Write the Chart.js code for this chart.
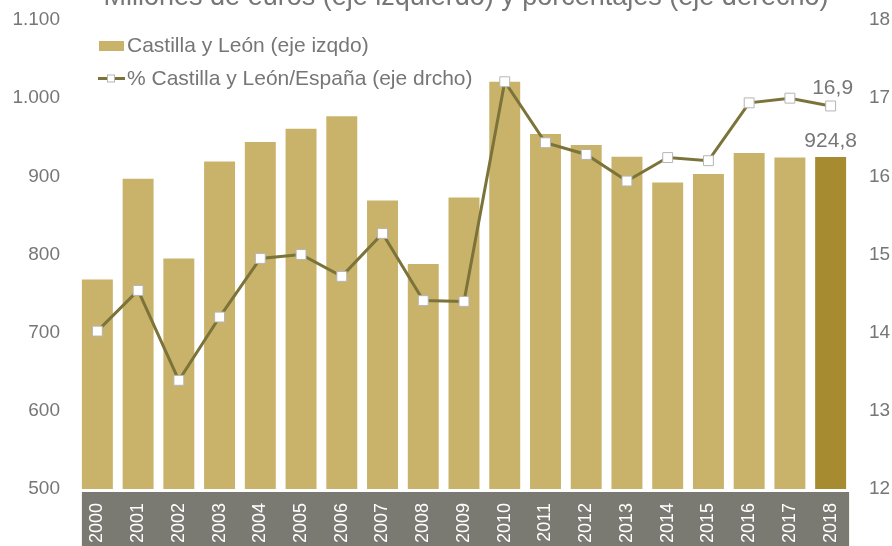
<!DOCTYPE html>
<html>
<head>
<meta charset="utf-8">
<script src="https://cdn.jsdelivr.net/npm/chart.js@4"></script>
<style>
  html, body { margin:0; padding:0; background:#fff; }
  #wrap { width:892px; height:546px; position:relative; }
</style>
</head>
<body>
<div id="wrap"><canvas id="chart" width="892" height="546"></canvas></div>
<script>
// Millones de euros (eje izquierdo) y porcentajes (eje derecho)
const years = ["2000","2001","2002","2003","2004","2005","2006","2007","2008","2009",
               "2010","2011","2012","2013","2014","2015","2016","2017","2018"];
const cylValues = [768, 897, 795, 919, 944, 961, 977, 869, 788, 873,
                   1021, 954, 940, 925, 892, 903, 930, 924, 924.8];
const pctValues = [14.02, 14.54, 13.39, 14.2, 14.95, 15.0, 14.72, 15.27, 14.41, 14.4,
                   17.21, 16.43, 16.28, 15.94, 16.24, 16.2, 16.94, 17.0, 16.9];
const leftTicks = [500, 600, 700, 800, 900, 1000, 1100];
const rightTicks = [12, 13, 14, 15, 16, 17, 18];

const titleText = "Millones de euros (eje izquierdo) y porcentajes (eje derecho)";
const barLabel = "Castilla y León (eje izqdo)";
const lineLabel = "% Castilla y León/España (eje drcho)";

const BAR = "#c9b36a", BAR_LAST = "#a68b30", LINE = "#7b7339", TXT = "#767676";
const FONT = "'Liberation Sans', Arial, sans-serif";

const fmt = (v, d) => v.toLocaleString('de-DE', {minimumFractionDigits:d, maximumFractionDigits:d});

// gray band under the x axis, title (cut at top), legend, value labels
const extras = {
  id:'extras',
  beforeDraw(chart){
    const {ctx, chartArea} = chart;
    const meta = chart.getDatasetMeta(0);
    const first = meta.data[0], last = meta.data[meta.data.length-1];
    ctx.save();
    ctx.fillStyle = "#7a7a72";
    const l = first.x - first.width/2, r = last.x + last.width/2 + 3;
    ctx.fillRect(l, chartArea.bottom + 3, r - l, chart.height - chartArea.bottom - 3);
    ctx.restore();
  },
  afterDraw(chart){
    const {ctx} = chart;
    ctx.save();
    ctx.fillStyle = TXT;
    ctx.font = "27px " + FONT;
    ctx.textAlign = "center";
    ctx.textBaseline = "alphabetic";
    ctx.fillText(titleText, 466, 5);

    // legend
    ctx.font = "21px " + FONT;
    ctx.textAlign = "left";
    ctx.textBaseline = "middle";
    ctx.fillStyle = BAR;
    ctx.fillRect(99, 41, 25, 10);
    ctx.fillStyle = TXT;
    ctx.fillText(barLabel, 127, 46);
    ctx.strokeStyle = LINE; ctx.lineWidth = 3;
    ctx.beginPath(); ctx.moveTo(98, 78.5); ctx.lineTo(125, 78.5); ctx.stroke();
    ctx.fillStyle = "#fff"; ctx.strokeStyle = "#b5b5b5"; ctx.lineWidth = 1;
    ctx.fillRect(107.5, 75, 7, 7); ctx.strokeRect(107.5, 75, 7, 7);
    ctx.fillStyle = TXT;
    ctx.fillText(lineLabel, 127, 79);

    // value labels for the last year
    const n = years.length - 1;
    const bar = chart.getDatasetMeta(0).data[n];
    const pt = chart.getDatasetMeta(1).data[n];
    ctx.textAlign = "center";
    ctx.textBaseline = "alphabetic";
    ctx.fillText(fmt(cylValues[n], 1), bar.x, bar.y - 10);
    ctx.fillText(fmt(pctValues[n], 1), pt.x + 2, pt.y - 12);
    ctx.restore();
  }
};

new Chart(document.getElementById('chart'), {
  data:{
    labels: years,
    datasets:[
      {
        type:'bar',
        label: barLabel,
        data: cylValues,
        yAxisID:'y',
        backgroundColor: years.map((_, i) => i === years.length - 1 ? BAR_LAST : BAR),
        categoryPercentage: 1,
        barPercentage: 0.76,
        order: 2
      },
      {
        type:'line',
        label: lineLabel,
        data: pctValues,
        yAxisID:'y1',
        borderColor: LINE,
        borderWidth: 3,
        tension: 0,
        pointStyle:'rect',
        pointRadius: 7,
        pointBackgroundColor:'#fff',
        pointBorderColor:'#b5b5b5',
        pointBorderWidth:1,
        order: 1
      }
    ]
  },
  options:{
    responsive:false,
    animation:false,
    layout:{padding:{top:20, left:0, right:0, bottom:0}},
    plugins:{legend:{display:false}, tooltip:{enabled:false}, title:{display:false}},
    scales:{
      x:{
        grid:{display:false, drawTicks:false},
        border:{display:false},
        ticks:{color:'#fff', font:{family:FONT, size:18}, minRotation:90, maxRotation:90, padding:14, autoSkip:false},
        afterFit(s){ s.height = 57; }
      },
      y:{
        position:'left', min:500, max:1100,
        afterBuildTicks(s){ s.ticks = leftTicks.map(v => ({value:v})); },
        grid:{display:false, drawTicks:false},
        border:{display:false},
        ticks:{color:TXT, font:{family:FONT, size:19}, padding:17, callback:v => fmt(v, 0)},
        afterFit(s){ s.width = 77; s.paddingTop = 0; s.paddingBottom = 0; }
      },
      y1:{
        position:'right', min:12, max:18,
        afterBuildTicks(s){ s.ticks = rightTicks.map(v => ({value:v})); },
        grid:{display:false, drawTicks:false},
        border:{display:false},
        ticks:{color:TXT, font:{family:FONT, size:19}, padding:18},
        afterFit(s){ s.width = 41; s.paddingTop = 0; s.paddingBottom = 0; }
      }
    }
  },
  plugins:[extras]
});
</script>
</body>
</html>
